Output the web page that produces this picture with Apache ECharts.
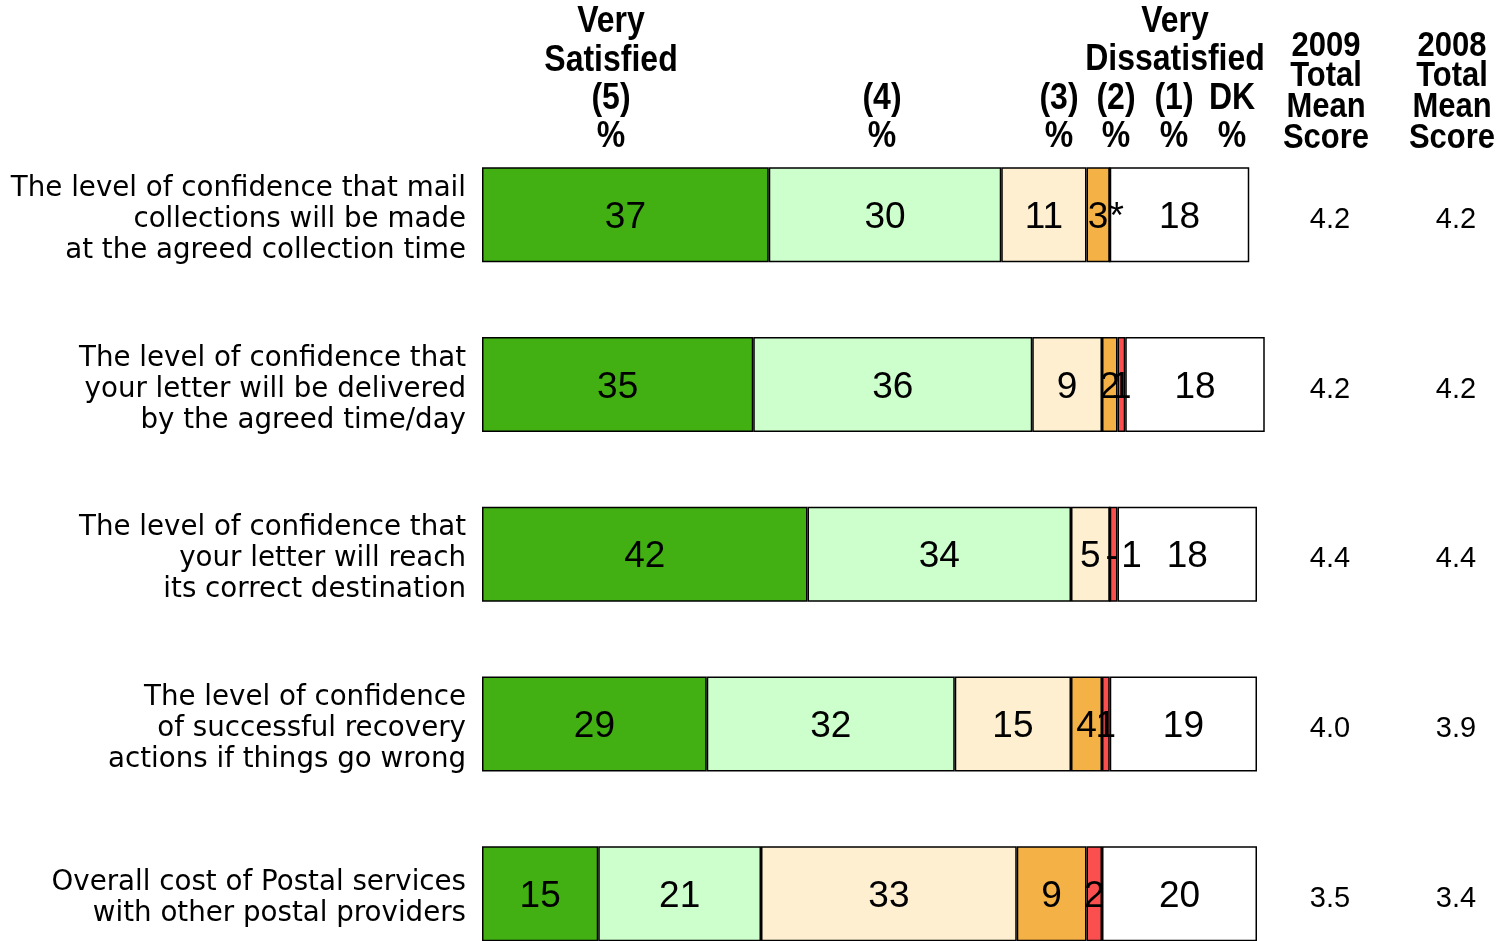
<!DOCTYPE html>
<html>
<head>
<meta charset="utf-8">
<script src="https://cdn.jsdelivr.net/npm/echarts@6/dist/echarts.min.js"></script>
<style>html,body{margin:0;padding:0;background:#fff;overflow:hidden;}#c{width:1500px;height:1000px;}</style>
</head>
<body>
<div id="c"></div>
<script>
const categories = [
  'The level of confidence that mail\ncollections will be made\nat the agreed collection time',
  'The level of confidence that\nyour letter will be delivered\nby the agreed time/day',
  'The level of confidence that\nyour letter will reach\nits correct destination',
  'The level of confidence\nof successful recovery\nactions if things go wrong',
  'Overall cost of Postal services\nwith other postal providers'
];
const v5 = [37, 35, 42, 29, 15];
const v4 = [30, 36, 34, 32, 21];
const v3 = [11, 9, 5, 15, 33];
const v2 = [3, 2, 0, 4, 9];
const v1 = [0, 1, 1, 1, 2];
const vDK = [18, 18, 18, 19, 20];
const lab2 = ['3', '2', '-', '4', '9'];
const lab1 = ['*', '1', '1', '1', '2'];
const mean2009 = ['4.2', '4.2', '4.4', '4.0', '3.5'];
const mean2008 = ['4.2', '4.2', '4.4', '3.9', '3.4'];

const chart = echarts.init(document.getElementById('c'), null, {renderer: 'canvas'});
const labelFont = {show: true, position: 'inside', color: '#000', fontSize: 37, offset: [0, 3], fontFamily: 'Liberation Sans, Arial, sans-serif'};
function mk(name, vals, color, labels, offsets) {
  return {
    name: name, type: 'bar', stack: 'a', barWidth: 95, xAxisIndex: 0, yAxisIndex: 0,
    itemStyle: {color: color, borderColor: '#000', borderWidth: 1.5},
    label: Object.assign({}, labelFont, {
      formatter: p => labels ? labels[p.dataIndex] : String(p.value)
    }),
    data: vals.map((v, i) => {
      const o = {value: v};
      if (offsets && offsets[i]) o.label = {offset: offsets[i]};
      return o;
    }),
    animation: false
  };
}
const SY = 1.15;
function hdr(text, x, y, lh, fs) {
  return {type: 'text', x: x, y: y, scaleY: SY,
    style: {text: text, font: 'bold ' + fs + 'px "Liberation Sans", Arial, sans-serif', fill: '#000',
      align: 'center', verticalAlign: 'middle', lineHeight: lh / SY}};
}
const hidden = {axisLine: {show: false}, axisTick: {show: false}, splitLine: {show: false}};
const meanAxis = (data, offset) => Object.assign({
  type: 'category', data: data, inverse: true, position: 'right', offset: offset, gridIndex: 1,
  axisLabel: {align: 'center', margin: 57.5, fontSize: 29, color: '#000', fontFamily: 'Liberation Sans, Arial, sans-serif'}
}, hidden);
chart.setOption({
  animation: false,
  grid: [
    {left: 482, top: 130, width: 790.5, height: 848.5, containLabel: false},
    {left: 482, top: 135, width: 790.5, height: 848.5, containLabel: false}
  ],
  xAxis: [
    {type: 'value', min: 0, max: 102, show: false, gridIndex: 0},
    {type: 'value', min: 0, max: 102, show: false, gridIndex: 1}
  ],
  yAxis: [
    Object.assign({type: 'category', data: categories, inverse: true, gridIndex: 0, axisLabel: {show: false}}, hidden),
    Object.assign({type: 'category', data: categories, inverse: true, gridIndex: 1,
     axisLabel: {margin: 16, fontSize: 27.7, lineHeight: 31, color: '#000', align: 'right', fontFamily: 'DejaVu Sans, sans-serif'}}, hidden),
    meanAxis(mean2009, 0),
    meanAxis(mean2008, 126)
  ],
  series: [
    mk('5', v5, '#42b012'),
    mk('4', v4, '#ccffcc'),
    mk('3', v3, '#fdefcf'),
    mk('2', v2, '#f4b146', lab2, [null, null, [2, 3], null, null]),
    mk('1', v1, '#fb4f4f', lab1, [[7, 3], null, [18, 3], null, null]),
    mk('DK', vDK, '#ffffff')
  ],
  graphic: [
    hdr('Very\nSatisfied\n(5)\n%', 611, 79.5, 38.3, 32),
    hdr('(4)\n%', 882, 118, 38, 32),
    hdr('Very\nDissatisfied', 1175, 41, 38, 32),
    hdr('(3)\n%', 1059, 118, 38, 32),
    hdr('(2)\n%', 1116, 118, 38, 32),
    hdr('(1)\n%', 1174, 118, 38, 32),
    hdr('DK\n%', 1232, 118, 38, 32),
    hdr('2009\nTotal\nMean\nScore', 1326, 92, 30.7, 31),
    hdr('2008\nTotal\nMean\nScore', 1452, 92, 30.7, 31)
  ]
});
</script>
</body>
</html>
